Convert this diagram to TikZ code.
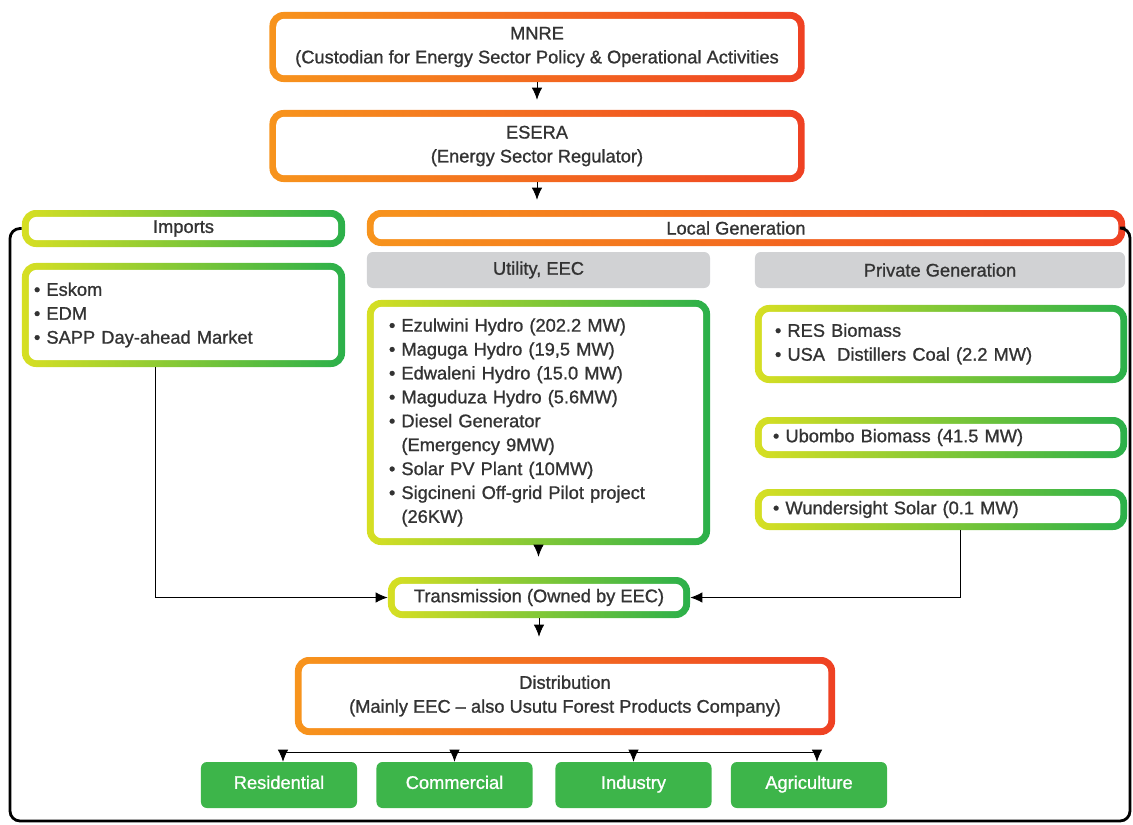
\documentclass[tikz,border=0pt]{standalone}
\usepackage{fontspec}
\setmainfont[FakeBold=1]{Liberation Sans}
\usetikzlibrary{arrows.meta}

\definecolor{orgL}{HTML}{F7941D}
\definecolor{orgR}{HTML}{EF4123}
\definecolor{grnL}{HTML}{D7DF23}
\definecolor{grnR}{HTML}{2BB04A}
\definecolor{grayfill}{HTML}{D1D2D4}
\definecolor{leaf}{HTML}{3DB54A}
\definecolor{ink}{HTML}{333333}

\tikzset{
  ring/.style={rounded corners=0.35cm, text=ink, align=center, inner sep=0pt,
    path picture={\fill[white, rounded corners=0.2cm]
      ([shift={(0.17cm,-0.17cm)}]path picture bounding box.north west) rectangle
      ([shift={(-0.17cm,0.17cm)}]path picture bounding box.south east);}},
  obox/.style={ring, left color=orgL, right color=orgR},
  gbox/.style={ring, left color=grnL, right color=grnR},
  itembox/.style={align=left, inner ysep=0pt},
  headbox/.style={fill=grayfill, rounded corners=0.15cm, text=ink, minimum height=0.9cm},
  leafbox/.style={fill=leaf, rounded corners=0.15cm, text=white, minimum width=3.9cm, minimum height=1.15cm,
    text height=0.75em, text depth=0.2em},
  arr/.style={-{Latex[length=3mm,width=2.6mm]}, semithick},
  framerule/.style={line width=2pt, rounded corners=0.25cm},
}

\begin{document}
\begin{tikzpicture}[x=0.025cm, y=-0.025cm, every node/.style={font=\fontsize{13}{17}\selectfont}]
\useasboundingbox (0,0) rectangle (1133,824);

% regulator chain
\node[obox, minimum width=13.375cm, minimum height=1.75cm] (mnre) at (537,47)
  {MNRE\\(Custodian for Energy Sector Policy \& Operational Activities};
\node[obox, minimum width=13.375cm, minimum height=1.8cm] (esera) at (537,146)
  {ESERA\\(Energy Sector Regulator)};

% supply headers
\node[gbox, minimum width=8.075cm, minimum height=0.925cm] (imports) at (183.5,228.5) {Imports};
\node[obox, minimum width=18.95cm, minimum height=0.9cm] (localgen) at (746,228) {Local Generation\hspace{0.5cm}};
\node[headbox, minimum width=8.575cm] (utility) at (538.5,270) {Utility, EEC};
\node[headbox, minimum width=9.25cm] (private) at (940,270) {Private Generation};

% supply lists
\node[gbox, itembox, inner xsep=0.3cm, text width=7.475cm, minimum height=2.6cm] (implist) at (183.5,315)
  {• Eskom\\• EDM\\• SAPP Day-ahead Market};
\node[gbox, itembox, inner xsep=0.55cm, text width=7.475cm, minimum height=6.125cm] (utillist) at (538.5,422.5)
  {• Ezulwini Hydro (202.2 MW)\\• Maguga Hydro (19,5 MW)\\• Edwaleni Hydro (15.0 MW)\\%
   • Maguduza Hydro (5.6MW)\\• Diesel Generator\\\phantom{• }(Emergency 9MW)\\%
   • Solar PV Plant (10MW)\\• Sigcineni Off-grid Pilot project\\\phantom{• }(26KW)};
\node[gbox, itembox, inner xsep=0.5cm, text width=8.3cm, minimum height=1.95cm] (reslist) at (941,344)
  {• RES Biomass\\• USA\ \ Distillers Coal (2.2 MW)};
\node[gbox, itembox, inner xsep=0.45cm, text width=8.4cm, minimum height=1.025cm] (ubombo) at (941,437.5)
  {• Ubombo Biomass (41.5 MW)};
\node[gbox, itembox, inner xsep=0.45cm, text width=8.4cm, minimum height=1.025cm] (wunder) at (941,509.5)
  {• Wundersight Solar (0.1 MW)};

% network
\node[gbox, minimum width=7.55cm, minimum height=1.025cm] (trans) at (539,597.5) {Transmission (Owned by EEC)};
\node[obox, minimum width=13.5cm, minimum height=1.95cm] (dist) at (565,696)
  {Distribution\\(Mainly EEC -- also Usutu Forest Products Company)};

% end users
\node[leafbox] (res) at (279,785) {Residential};
\node[leafbox] (com) at (454.5,785) {Commercial};
\node[leafbox] (ind) at (633.5,785) {Industry};
\node[leafbox] (agr) at (809,785) {Agriculture};

\coordinate (fbl) at (10,821);
\coordinate (fbr) at (1130,821);
\coordinate (bar) at (565,752);

\draw[framerule] (imports.west) -- (imports.west -| fbl) -- (fbl) -- (fbr) -- (localgen.east -| fbr) -- (localgen.east);

\draw[arr, shorten >=0.25cm] (mnre.south) -- (esera.north);
\draw[arr, shorten >=0.25cm] (esera.south) -- (esera.south |- localgen.north);
\draw[arr, shorten >=0.5cm] (utillist.south) -- (utillist.south |- trans.north);
\draw[arr, shorten >=0.5cm] (trans.south) -- (trans.south |- dist.north);
\draw[arr] ([xshift=-0.71cm]implist.south) |- (trans.west);
\draw[arr] ([xshift=0.475cm]wunder.south) |- (trans.east);

\draw[arr] (bar) -| ([xshift=0.1cm]res.north);
\draw[arr] (bar) -| (com.north);
\draw[arr] (bar) -| (ind.north);
\draw[arr] (bar) -| ([xshift=0.2cm]agr.north);
\end{tikzpicture}
\end{document}
